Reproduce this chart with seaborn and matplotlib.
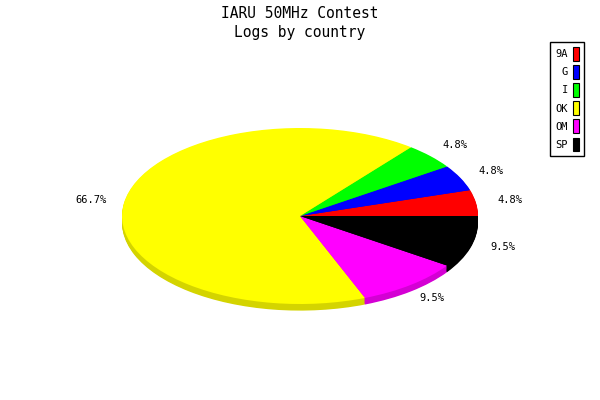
import matplotlib
matplotlib.use("Agg")
import matplotlib.pyplot as plt
import matplotlib.colors as mcolors
from matplotlib.patches import Patch
import seaborn as sns

# ── Data ──────────────────────────────────────────────────────────────────────
countries = ['9A', 'G', 'I', 'OK', 'OM', 'SP']
logs = [1, 1, 1, 14, 2, 2]
colors = ['#ff0000', '#0000ff', '#00ff00', '#ffff00', '#ff00ff', '#000000']

sns.set_style('white')
plt.rcParams['font.family'] = ['DejaVu Sans Mono', 'DejaVu Sans']
plt.rcParams['text.color'] = 'black'

fig = plt.figure(figsize=(6, 4), dpi=100)
fig.patch.set_facecolor('white')

# axes box = top face of the flattened pie (pixels 122..478 x 128..304)
ax = fig.add_axes([122 / 600, 96 / 400, 356 / 600, 176 / 400])
ax.axis('off')

# side of the "3D" pie: darker copies stacked underneath
shade = [tuple(c * 0.83 for c in mcolors.to_rgb(col)) for col in colors]
depth = 0.075
steps = 8
for i in range(steps, 0, -1):
    wedges, _ = ax.pie(logs, colors=shade, startangle=0, counterclock=True,
                       center=(0, -depth * i / steps), radius=1,
                       wedgeprops=dict(linewidth=0))
    for w in wedges:
        w.set_clip_on(False)

# top face with percentage labels
total = sum(logs)
wedges, texts = ax.pie(logs, colors=colors, startangle=0, counterclock=True,
                       radius=1, labels=[f'{v / total * 100:.1f}%' for v in logs],
                       labeldistance=1.19, wedgeprops=dict(linewidth=0),
                       textprops=dict(fontsize=7.5, ha='center', va='center',
                                      color='black'))
for w in wedges:
    w.set_clip_on(False)
ax.set_aspect('auto')
ax.set_xlim(-1, 1)
ax.set_ylim(-1, 1)

fig.text(0.5, 1 - 13 / 400, 'IARU 50MHz Contest', ha='center', va='center',
         fontsize=10.5)
fig.text(0.5, 1 - 32 / 400, 'Logs by country', ha='center', va='center',
         fontsize=10.5)

handles = [Patch(facecolor=c, edgecolor='black', linewidth=0.8) for c in colors]
leg = fig.legend(handles, countries, loc='upper right',
                 bbox_to_anchor=(584 / 600, 1 - 42 / 400), borderaxespad=0,
                 markerfirst=False, fontsize=7.5, handlelength=0.6,
                 handleheight=1.6, handletextpad=0.45, labelspacing=0.45,
                 borderpad=0.5, fancybox=False, framealpha=1)
leg.get_frame().set_edgecolor('black')
leg.get_frame().set_linewidth(1)
for t in leg.get_texts():
    t.set_ha('right')

fig.savefig('out.png', dpi=100)
